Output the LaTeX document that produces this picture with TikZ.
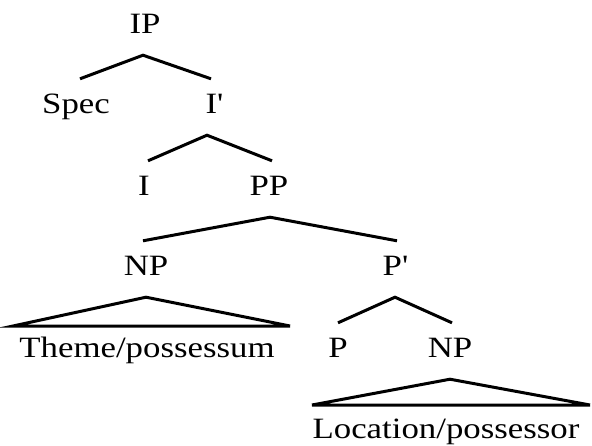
\documentclass[tikz,border=0pt]{standalone}
\usepackage{fontspec}
\setmainfont[FakeStretch=1.18]{Liberation Serif}
\begin{document}
\begin{tikzpicture}[x=1pt,y=-1pt,
  lbl/.style={anchor=base,font=\fontsize{29.5}{31}\selectfont,inner xsep=0pt,inner ysep=15pt,text height=19pt,text depth=7pt},
  br/.style={line width=3pt}]
\useasboundingbox (0,0) rectangle (592,445);
\node[lbl] (IP) at (145,33) {IP};
\node[lbl] (Spec) at (76,113) {Spec};
\node[lbl] (Ib) at (214,113) {I\textquotesingle};
\node[lbl] (I) at (144,195) {I};
\node[lbl] (PP) at (269,195) {PP};
\node[lbl] (NP1) at (146,275) {NP};
\node[lbl] (Pb) at (395,275) {P\textquotesingle};
\node[lbl] (Theme) at (147,357) {Theme/possessum};
\node[lbl] (P) at (338,357) {P};
\node[lbl] (NP2) at (450,357) {NP};
\node[lbl] (Loc) at (446,438) {Location/possessor};
\coordinate (T1l) at (13,326);
\coordinate (T1r) at (290,326);
\coordinate (T2l) at (312,405);
\coordinate (T2r) at (590,405);
\draw[br] ([xshift=4pt]Spec.north) -- ([xshift=-2pt]IP.south) -- ([xshift=-3pt]Ib.north);
\draw[br] ([xshift=4pt]I.north) -- ([xshift=-7pt]Ib.south) -- ([xshift=3pt]PP.north);
\draw[br] ([xshift=-3pt]NP1.north) -- ([xshift=1pt]PP.south) -- ([xshift=2pt]Pb.north);
\draw[br] (P.north) -- (Pb.south) -- ([xshift=2pt]NP2.north);
\draw[br,line join=miter] (NP1.south) -- (T1l) -- (T1r) -- cycle;
\draw[br,line join=miter] (NP2.south) -- (T2l) -- (T2r) -- cycle;
\end{tikzpicture}
\end{document}
